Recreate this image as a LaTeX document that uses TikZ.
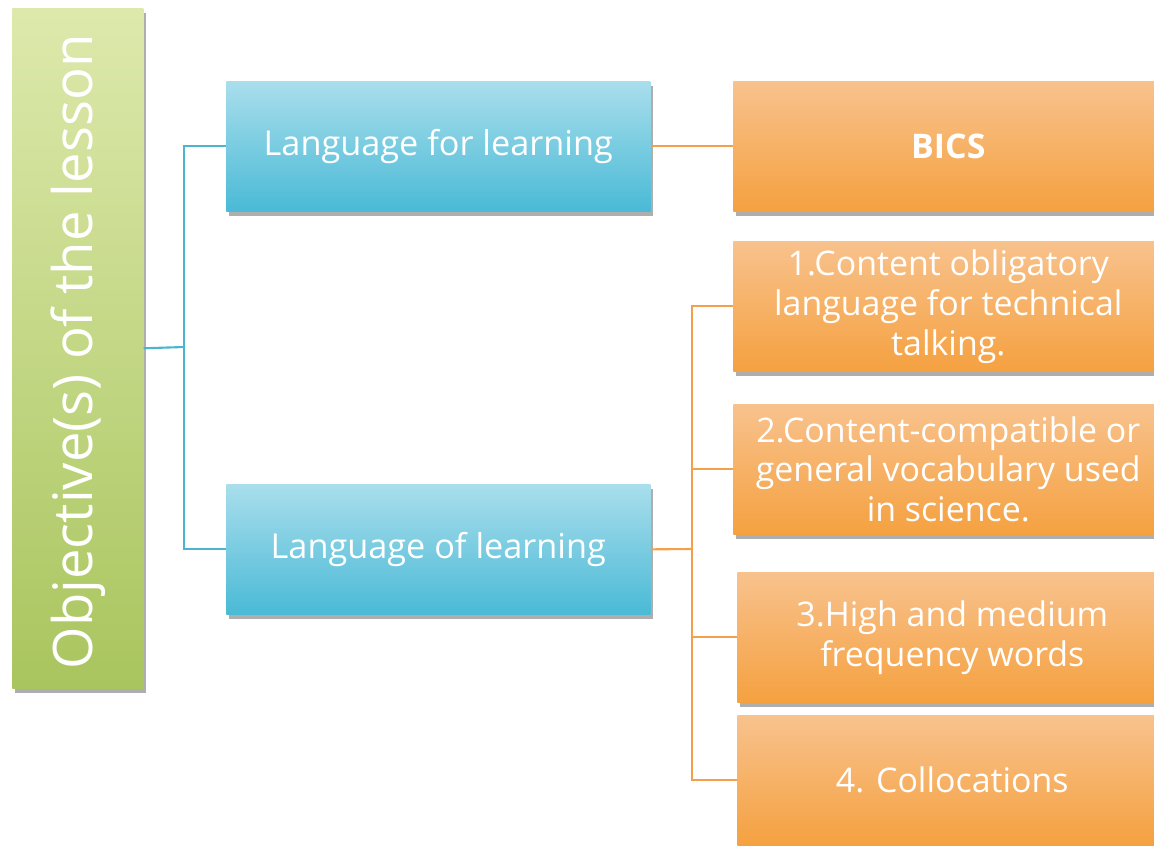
\documentclass[tikz,border=0pt]{standalone}
\usepackage{fontspec}
\setmainfont{Open Sans}
\usepackage{tikz}
\usetikzlibrary{shadows}

\definecolor{greentop}{HTML}{DDE9AC}
\definecolor{greenbot}{HTML}{A9C55E}
\definecolor{bluetop}{HTML}{A9DEEC}
\definecolor{bluebot}{HTML}{4ABAD6}
\definecolor{orangetop}{HTML}{F8C28D}
\definecolor{orangebot}{HTML}{F5A140}
\definecolor{bluewire}{HTML}{4BB5D1}
\definecolor{orangewire}{HTML}{F4A04A}

\begin{document}
\begin{tikzpicture}[x=0.02cm,y=-0.02cm]

\tikzset{box/.style = {shape=rectangle,anchor=north west,inner sep=0pt,align=center,text=white,
  drop shadow={shadow xshift=1.5pt,shadow yshift=-2.5pt,opacity=.45,fill=black!70}}}
\tikzset{topic/.style = {box,top color=greentop,bottom color=greenbot,minimum width=2.62cm,minimum height=13.6cm}}
\tikzset{branch/.style = {box,top color=bluetop,bottom color=bluebot,minimum width=8.48cm,minimum height=2.6cm,
  font=\fontsize{19.5}{23}\selectfont}}
\tikzset{leaf/.style = {box,top color=orangetop,bottom color=orangebot,minimum width=8.6cm,minimum height=2.6cm,
  font=\fontsize{19.3}{22.7}\selectfont}}
\tikzset{bluelink/.style = {draw=bluewire,line width=1.2pt}}
\tikzset{orangelink/.style = {draw=orangewire,line width=1.2pt}}

\useasboundingbox[fill=white] (0,0) rectangle (1154,846);

\node[topic] (obj) at (12,8) {};
\node[rotate=90,text=white,font=\fontsize{31}{36}\selectfont] at ([yshift=-2pt]obj.center) {Objective(s) of the lesson};

\node[branch] (lfor) at (226,81) {Language for learning};
\node[branch] (lof) at (226,484) {Language of learning};

\node[leaf] (bics) at (733,81) {\bfseries BICS};
\node[leaf] (lf1) at (733,241) {1.Content obligatory\\language for technical\\talking.};
\node[leaf] (lf2) at (733,404) {2.Content-compatible or\\general vocabulary used\\in science.};
\node[leaf] (lf3) at (737,572) {3.High and medium\\frequency words};
\node[leaf] (lf4) at (737,715) {4. Collocations};

\coordinate (bj) at (184,347);
\coordinate (oj) at (692,549);

\draw[bluelink] (obj.east) -- (bj);
\draw[bluelink] (bj) |- (lfor.west);
\draw[bluelink] (bj) |- (lof.west);

\draw[orangelink] (lfor.east) -- (bics.west);
\draw[orangelink] (lof.east) -- (oj);
\draw[orangelink] (oj) |- (lf1.west);
\draw[orangelink] (oj) |- (lf2.west);
\draw[orangelink] (oj) |- (lf3.west);
\draw[orangelink] (oj) |- (lf4.west);

\end{tikzpicture}
\end{document}
